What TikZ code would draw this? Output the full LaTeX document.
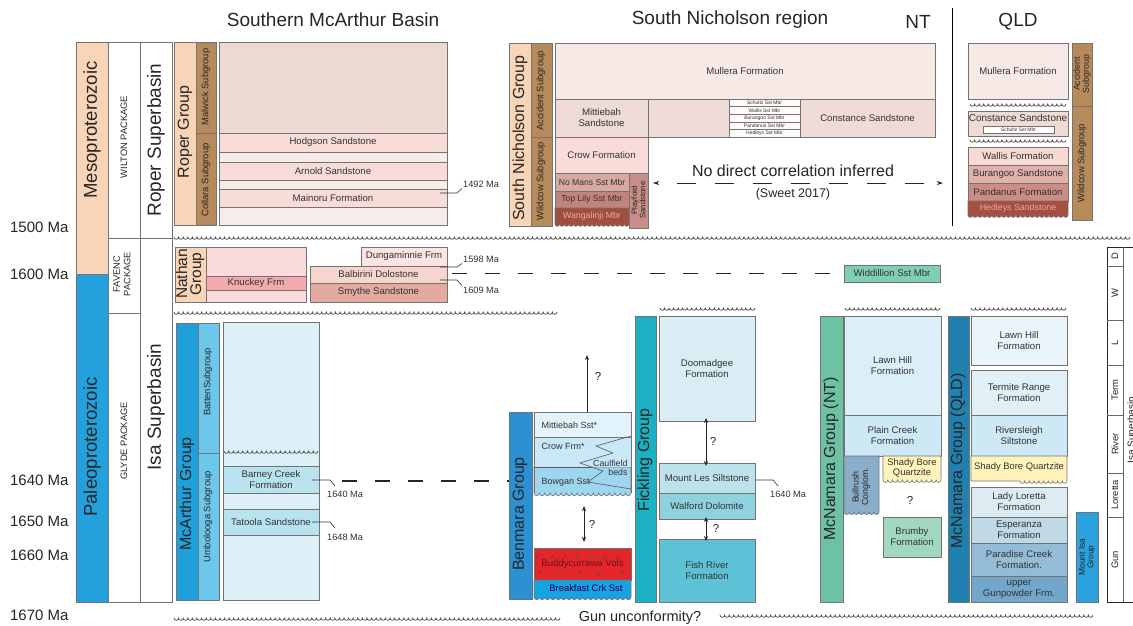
\documentclass[tikz,border=0pt]{standalone}
\usepackage{fontspec}
\setmainfont{Liberation Sans}
\usetikzlibrary{arrows.meta}

\definecolor{meso}{HTML}{FAD4B6}
\definecolor{paleo}{HTML}{22A1DC}
\definecolor{brownsg}{HTML}{B78A5C}
\definecolor{ropertop}{HTML}{EDD8D2}
\definecolor{roperfm}{HTML}{F7DCD7}
\definecolor{roperlt}{HTML}{F6ECEA}
\definecolor{nathanlt}{HTML}{FADADD}
\definecolor{knuckey}{HTML}{F3AAAE}
\definecolor{dunga}{HTML}{FBE4E1}
\definecolor{balb}{HTML}{F6D5CF}
\definecolor{smythe}{HTML}{E3AA9F}
\definecolor{mullera}{HTML}{F7E9E6}
\definecolor{mitt}{HTML}{EFDBD6}
\definecolor{crow}{HTML}{F9DCD9}
\definecolor{nomans}{HTML}{D9A8A1}
\definecolor{toplily}{HTML}{C1847B}
\definecolor{wanga}{HTML}{A14E40}
\definecolor{playford}{HTML}{C68E86}
\definecolor{wallis}{HTML}{F9D9D4}
\definecolor{burangoo}{HTML}{DFB1AA}
\definecolor{pandanus}{HTML}{CA8D83}
\definecolor{widd}{HTML}{7FCFB5}
\definecolor{mcarthur}{HTML}{1FA0DA}
\definecolor{batten}{HTML}{6CC7ED}
\definecolor{mcafm}{HTML}{DDF0F8}
\definecolor{barney}{HTML}{B9E2EF}
\definecolor{benmara}{HTML}{2C90D2}
\definecolor{mittS}{HTML}{E2F3FB}
\definecolor{crowS}{HTML}{C8E8F8}
\definecolor{bowgan}{HTML}{9ED6F2}
\definecolor{buddy}{HTML}{E2262A}
\definecolor{breakfast}{HTML}{17A3E1}
\definecolor{fickling}{HTML}{1CB1C2}
\definecolor{doom}{HTML}{D8EEF4}
\definecolor{mountles}{HTML}{BCE3EC}
\definecolor{walford}{HTML}{90D1DF}
\definecolor{fishriver}{HTML}{5DC2D6}
\definecolor{mcnnt}{HTML}{6DC2A3}
\definecolor{lawn}{HTML}{DCEFF8}
\definecolor{plain}{HTML}{CDE9F6}
\definecolor{bullrush}{HTML}{8AADC9}
\definecolor{shady}{HTML}{FFF2BA}
\definecolor{brumby}{HTML}{A2D7BF}
\definecolor{mcnq}{HTML}{2080B0}
\definecolor{lawnq}{HTML}{E9F5FB}
\definecolor{termite}{HTML}{E1F0F6}
\definecolor{rivers}{HTML}{CEE9F5}
\definecolor{ladyl}{HTML}{DDEBF3}
\definecolor{esper}{HTML}{BFD9E7}
\definecolor{paradise}{HTML}{94BCD6}
\definecolor{gunpow}{HTML}{72A6CB}
\definecolor{mtisa}{HTML}{2BA1DD}
\definecolor{darkfm}{HTML}{A54F40}
\definecolor{palefm}{HTML}{E3ADA3}

\newcommand\fs[2]{\fontsize{#1}{#2}\selectfont}
\newcommand\strat[8][]{\node[unitbox,fill=#3,minimum width={(#6-#4)*1pt},minimum height={(#7-#5)*1pt},#1] (#2) at ({(#4+#6)/2},{(#5+#7)/2}) {#8};}
\newcommand\scalbox[8][]{\pgfmathsetmacro\scr{(#5-#7)/(2*#8)}%
  \filldraw[unitline,fill=#2,#1] (#3,#4) -- (#5,#4) -- (#5,#6) \foreach \k in {1,...,#8}{arc[start angle=0,end angle=180,radius=\scr]} -- (#3,#6) -- cycle;}
\newcommand\uncon[3]{\pgfmathtruncatemacro\unn{round((#2-#1)/4.6)}\pgfmathsetmacro\unr{(#2-#1)/(2*\unn)}%
  \draw[wavy] (#1,#3) \foreach \k in {1,...,\unn}{arc[start angle=180,end angle=0,radius=\unr]};}

\tikzset{
  unitline/.style={draw=black!55, line width=0.6pt},
  unitbox/.style={unitline, inner sep=0pt, outer sep=0pt, align=center, text=black!80, font=\fs{9.6}{11}},
  vlab/.style={rotate=90, align=center, text=black!85, inner sep=0pt},
  title/.style={font=\fs{19}{21}, text=black!85},
  age/.style={font=\fs{15}{17}, text=black!85, anchor=east},
  agesm/.style={font=\fs{9.2}{10}, text=black!80, anchor=west, inner sep=1pt},
  leader/.style={draw=black!80, line width=0.6pt},
  wavy/.style={draw=black!70, line width=0.7pt},
  corr/.style={draw=black!85, line width=1.1pt, dash pattern=on 15pt off 18pt},
  qarrow/.style={draw=black!85, line width=0.6pt, -{Stealth[length=5pt,width=4pt]}},
  darrow/.style={draw=black!85, line width=0.6pt, {Stealth[length=5pt,width=4pt]}-{Stealth[length=5pt,width=4pt]}},
  volc/.style={draw=black!70, line width=0.4pt}
}

\begin{document}
\begin{tikzpicture}[x=1pt,y=-1pt]
\useasboundingbox (0,0) rectangle (1133,625);
\fill[white] (0,0) rectangle (1133,625);

\node[title] (tMcA) at (333,20) {Southern McArthur Basin};
\node[title] (tSN) at (730,20) {South Nicholson region};
\node[title] (tNT) at (918,22) {NT};
\node[title] (tQLD) at (1018,22) {QLD};
\draw[line width=0.9pt] (952,8) -- (952,226);

\strat{meso}{meso}{76}{42}{108}{274}{}
\strat{paleo}{paleo}{76}{274}{108}{602}{}
\strat{wilton}{white}{108}{42}{140}{238}{}
\strat{favenc}{white}{108}{238}{140}{313}{}
\strat{glyde}{white}{108}{313}{140}{602}{}
\strat{roperSB}{white}{140}{42}{172}{238}{}
\strat{isaSB}{white}{140}{238}{172}{602}{}
\node[vlab,font=\fs{18.6}{20}] (mesoL) at (92,130) {Mesoproterozoic};
\node[vlab,font=\fs{18.6}{20}] (paleoL) at (92,447) {Paleoproterozoic};
\node[vlab,font=\fs{9.3}{10.5}] (wiltonL) at (124,137) {WILTON PACKAGE};
\node[vlab,font=\fs{9.3}{10.5}] (favencL) at (122,274) {FAVENC\\PACKAGE};
\node[vlab,font=\fs{9.3}{10.5}] (glydeL) at (124,441) {GLYDE PACKAGE};
\node[vlab,font=\fs{19}{20}] (roperSBL) at (156,140) {Roper Superbasin};
\node[vlab,font=\fs{19}{20}] (isaSBL) at (156,407) {Isa Superbasin};

\node[age] (m1500) at (72,227) {1500 Ma};
\node[age] (m1600) at (72,274) {1600 Ma};
\node[age] (m1640) at (72,480) {1640 Ma};
\node[age] (m1650) at (72,521) {1650 Ma};
\node[age] (m1660) at (72,555) {1660 Ma};
\node[age] (m1670) at (72,615) {1670 Ma};

\uncon{174}{1130}{237}
\uncon{174}{557}{312}
\uncon{660}{755}{308}
\uncon{845}{940}{308}
\uncon{971}{1066}{308}
\uncon{174}{560}{618}
\uncon{720}{1093}{615}

\strat{roperG}{meso}{174}{42}{196}{225}{}
\strat{malwick}{brownsg}{196}{42}{216}{133}{}
\strat{collara}{brownsg}{196}{133}{216}{225}{}
\node[vlab,font=\fs{16}{17}] (roperGL) at (185,132) {Roper Group};
\node[vlab,font=\fs{9.4}{10}] (malwickL) at (206,87) {Malwick Subgroup};
\node[vlab,font=\fs{9.4}{10}] (collaraL) at (206,180) {Collara Subgroup};
\strat{ropertop}{ropertop}{219}{42}{447}{133}{}
\strat{hodgson}{roperfm}{219}{133}{447}{152}{Hodgson Sandstone}
\strat{rb1}{roperlt}{219}{152}{447}{162}{}
\strat{arnold}{roperfm}{219}{162}{447}{180}{Arnold Sandstone}
\strat{rb2}{roperlt}{219}{180}{447}{189}{}
\strat{mainoru}{roperfm}{219}{189}{447}{207}{Mainoru Formation}
\strat{rb3}{roperlt}{219}{207}{447}{225}{}
\node[agesm] (a1492) at (462,184) {1492 Ma};
\coordinate (k1492) at (440,193);
\draw[leader] (k1492) -- ++(17,0) -- (a1492.south west);

\strat{nathanG}{meso}{175}{247}{206}{302}{}
\node[vlab,font=\fs{15.5}{14}] (nathanL) at (190,274) {Nathan\\Group};
\strat{nb1}{nathanlt}{206}{247}{306}{276}{}
\strat{knuckey}{knuckey}{206}{276}{306}{290}{Knuckey Frm}
\strat{nb2}{nathanlt}{206}{290}{306}{302}{}
\strat{dunga}{dunga}{361}{247}{447}{266}{Dungaminnie Frm}
\strat{balb}{balb}{310}{266}{447}{283}{Balbirini Dolostone}
\strat{smythe}{smythe}{310}{283}{447}{302}{Smythe Sandstone}
\node[agesm] (a1598) at (462,259) {1598 Ma};
\node[agesm] (a1609) at (462,290) {1609 Ma};
\coordinate (k1598) at (440,267);
\coordinate (k1609) at (440,280);
\draw[leader] (k1598) -- ++(17,0) -- (a1598.south west);
\draw[leader] (k1609) -- ++(17,0) -- (a1609.north west);
\strat{widd}{widd}{844}{265}{940}{282}{Widdillion Sst Mbr}
\coordinate (c1600) at (452,273.5);
\draw[corr] (c1600) -- (widd.west);

\strat{snG}{meso}{509}{43}{531}{226}{}
\strat{accident}{brownsg}{531}{43}{552}{137}{}
\strat{wildcow}{brownsg}{531}{137}{552}{226}{}
\node[vlab,font=\fs{16}{17}] (snGL) at (520,138) {South Nicholson Group};
\node[vlab,font=\fs{9.4}{10}] (accidentL) at (541,91) {Accident Subgroup};
\node[vlab,font=\fs{9.4}{10}] (wildcowL) at (541,181) {Wildcow Subgroup};
\strat{mullera}{mullera}{555}{43}{935}{99}{Mullera Formation}
\strat{mittiebah}{mitt}{555}{99}{648}{137}{Mittiebah\\Sandstone}
\strat{snmid}{mitt}{648}{99}{729}{137}{}
\strat[font=\fs{5}{5}]{schultz}{white!85!mitt}{729}{99}{800}{106.6}{Schultz Sst Mbr}
\strat[font=\fs{5}{5}]{wallis}{white!85!mitt}{729}{106.6}{800}{114.2}{Wallis Sst Mbr}
\strat[font=\fs{5}{5}]{burangoo}{white!85!mitt}{729}{114.2}{800}{121.8}{Burangoo Sst Mbr}
\strat[font=\fs{5}{5}]{pandanus}{white!85!mitt}{729}{121.8}{800}{129.4}{Pandanus Sst Mbr}
\strat[font=\fs{5}{5}]{hedleys}{white!85!mitt}{729}{129.4}{800}{137}{Hedleys Sst Mbr}
\strat{constance}{mitt}{800}{99}{935}{137}{Constance Sandstone}
\strat{crow}{crow}{555}{137}{648}{173}{Crow Formation}
\strat[font=\fs{8.6}{9}]{nomans}{nomans}{555}{173}{629}{191}{No Mans Sst Mbr}
\strat[font=\fs{8.6}{9}]{toplily}{toplily}{555}{191}{629}{208}{Top Lily Sst Mbr}
\scalbox{wanga}{555}{208}{629}{224}{555}{16}
\node[font=\fs{8.8}{10},text=palefm] (wangaL) at (592,216) {Wangalinji Mbr};
\strat{playford}{playford}{629}{173}{648}{228}{}
\node[vlab,font=\fs{7.8}{8.2}] (playfordL) at (638.5,200) {Playford\\Sandstone};
\node[font=\fs{16}{18},text=black!85] (nodirect) at (793,171) {No direct correlation inferred};
\node[font=\fs{12.5}{14},text=black!85] (sweet) at (793,194) {(Sweet 2017)};
\coordinate (ncL) at (653,183);
\coordinate (ncR) at (943,183);
\draw[black!85, line width=0.9pt, dash pattern=on 19pt off 19pt, dash phase=-20pt, {Stealth[length=6pt,width=4pt]}-{Stealth[length=6pt,width=4pt]}] (ncL) -- (ncR);

\strat{mulleraQ}{mullera}{968}{43}{1068}{99}{Mullera Formation}
\uncon{970}{1066}{104}
\strat{constQ}{mitt}{968}{111}{1068}{136}{}
\node[font=\fs{10}{10},text=black!80] (constQL) at (1018,118) {Constance Sandstone};
\strat[font=\fs{5}{5}]{schultzQ}{white}{983}{126}{1054}{133}{Schultz Sst Mbr}
\uncon{970}{1066}{140}
\strat{wallisQ}{wallis}{968}{147}{1068}{165}{Wallis Formation}
\strat{burangooQ}{burangoo}{968}{165}{1068}{183}{Burangoo Sandstone}
\strat{pandanusQ}{pandanus}{968}{183}{1068}{201}{Pandanus Formation}
\scalbox{darkfm}{968}{201}{1068}{215}{968}{21}
\node[font=\fs{8.8}{10},text=palefm] (hedleysQL) at (1018,208) {Hedleys Sandstone};
\strat{accQ}{brownsg}{1072}{43}{1092}{106}{}
\strat{wildQ}{brownsg}{1072}{106}{1092}{220}{}
\node[vlab,font=\fs{8.8}{9}] (accQL) at (1082,74) {Accident\\Subgroup};
\node[vlab,font=\fs{9.4}{10}] (wildQL) at (1082,163) {Wildcow Subgroup};

\strat{mcarthurG}{mcarthur}{176}{323}{198}{600}{}
\strat{battenSG}{batten}{198}{323}{219}{453}{}
\strat{umbSG}{batten}{198}{453}{219}{600}{}
\node[vlab,font=\fs{16}{17}] (mcarthurL) at (187,494) {McArthur Group};
\node[vlab,font=\fs{9.4}{10}] (battenL) at (208,382) {BattenSubgroup};
\node[vlab,font=\fs{9.4}{10}] (umbL) at (208,517) {Umbolooga Subgroup};
\strat{mcafm}{mcafm}{223}{322}{319}{600}{}
\uncon{224}{318}{451}
\strat{barney}{barney}{223}{466}{319}{493}{Barney Creek\\Formation}
\strat{tatoola}{barney}{223}{509}{319}{535}{Tatoola Sandstone}
\coordinate (k1640a) at (312,480);
\coordinate (e1640a) at (335,486);
\coordinate (k1648) at (312,522);
\coordinate (e1648) at (335,528);
\draw[leader] (k1640a) -- ++(18,0) -- (e1640a);
\draw[leader] (k1648) -- ++(18,0) -- (e1648);
\node[agesm] (a1640a) at (326,494) {1640 Ma};
\node[agesm] (a1648) at (326,537) {1648 Ma};

\strat{benmaraG}{benmara}{509}{412}{532}{599}{}
\node[vlab,font=\fs{16}{17}] (benmaraL) at (520,514) {Benmara Group};
\coordinate (c1640) at (342,481);
\draw[corr] (c1640) -- (benmaraG.west |- c1640);
\scalbox{bowgan}{534}{467}{631}{493}{534}{18}
\fill[crowS] (534,437) rectangle (631,467);
\draw[unitline] (534,493) -- (534,437) -- (631,437) -- (631,493);
\strat{mittS}{mittS}{534}{412}{631}{437}{}
\node[font=\fs{9}{10},text=black!80,anchor=west] (mittSL) at (538,425) {Mittiebah Sst*};
\draw[black!65, line width=0.6pt] (631,436) -- (596,446) -- (613,453) -- (580,463) -- (603,471) -- (588,482) -- (631,489);
\draw[black!65, line width=0.6pt] (534,467) -- (591.5,467);
\node[font=\fs{9}{10},text=black!80,anchor=west] (crowSL) at (538,446) {Crow Frm*};
\node[font=\fs{9}{10},text=black!80,anchor=west] (bowganL) at (538,482) {Bowgan Sst};
\node[font=\fs{8.8}{9},text=black!80,align=right,anchor=east] (caulL) at (631,468) {Caulfield\\beds};
\coordinate (q1) at (587,355);
\draw[qarrow] (mittS.north -| q1) -- (q1);
\node[font=\fs{11.5}{12},text=black!85] (q1L) at (598,376) {?};
\strat[text=buddy!50!black]{buddy}{buddy}{534}{548}{631}{580}{Buddycurrawa Vols}
\foreach \vx/\vy in {538/556,553/557,565/556,578/557,592/556,605/557,618/556,540/572,560/574,580/572,598/574,622/572}
  \draw[volc] (\vx-1.5,\vy+1.5) -- (\vx,\vy-1.5) -- (\vx+1.5,\vy+1.5);
\scalbox{breakfast}{534}{580}{631}{597}{534}{18}
\node[font=\fs{9.4}{10},text=blue!30!black] (breakL) at (586,588) {Breakfast Crk Sst};
\coordinate (q2a) at (584,506);
\coordinate (q2b) at (584,542);
\draw[darrow] (q2a) -- (q2b);
\node[font=\fs{11.5}{12},text=black!85] (q2L) at (592,524) {?};
\node[font=\fs{14.5}{16},text=black!85] (gunL) at (640,618) {Gun unconformity?};

\strat{ficklingG}{fickling}{635}{316}{656}{602}{}
\node[vlab,font=\fs{16}{17}] (ficklingL) at (645,460) {Fickling Group};
\strat{doomadgee}{doom}{659}{316}{755}{421}{Doomadgee\\Formation}
\strat{mountles}{mountles}{659}{463}{755}{493}{Mount Les Siltstone}
\strat{walford}{walford}{659}{493}{755}{519}{Walford Dolomite}
\strat{fishriver}{fishriver}{659}{539}{755}{602}{Fish River\\Formation}
\draw[darrow] ([yshift=3pt]doomadgee.south -| 706,0) -- ([yshift=-3pt]mountles.north -| 706,0);
\node[font=\fs{11.5}{12},text=black!85] (q3L) at (713,441) {?};
\draw[darrow] ([yshift=2pt]walford.south -| 706,0) -- ([yshift=-2pt]fishriver.north -| 706,0);
\node[font=\fs{11.5}{12},text=black!85] (q4L) at (716,528) {?};
\coordinate (k1640b) at (755,480);
\coordinate (e1640b) at (778,486);
\draw[leader] (k1640b) -- ++(18,0) -- (e1640b);
\node[agesm] (a1640b) at (769,494) {1640 Ma};

\strat{mcnNT}{mcnnt}{820}{316}{843}{602}{}
\node[vlab,font=\fs{16}{17}] (mcnNTL) at (831,459) {McNamara Group (NT)};
\strat{lawnNT}{lawn}{844}{316}{941}{415}{Lawn Hill\\Formation}
\strat{plainNT}{plain}{844}{415}{941}{456}{Plain Creek\\Formation}
\scalbox{bullrush}{844}{456}{879}{512}{844}{7}
\node[vlab,font=\fs{8.8}{9.5}] (bullrushL) at (861,487) {Bullrush\\Conglom.};
\scalbox{shady}{883}{456}{941}{480}{883}{12}
\node[font=\fs{9.4}{10.5},text=black!80,align=center] (shadyNTL) at (912,468) {Shady Bore\\Quartzite};
\node[font=\fs{11.5}{12},text=black!85] (q5L) at (910,500) {?};
\strat{brumby}{brumby}{883}{517}{941}{557}{Brumby\\Formation}

\strat{mcnQ}{mcnq}{948}{316}{969}{602}{}
\node[vlab,font=\fs{16}{17}] (mcnQL) at (958,461) {McNamara Group (QLD)};
\strat{lawnQ}{lawnq}{971}{316}{1067}{365}{Lawn Hill\\Formation}
\strat{termite}{termite}{971}{370}{1067}{415}{Termite Range\\Formation}
\strat{rivers}{rivers}{971}{415}{1067}{456}{Riversleigh\\Siltstone}
\scalbox{shady}{971}{456}{1067}{481}{1020}{10}
\node[font=\fs{9.4}{10.5},text=black!80] (shadyQL) at (1019,467) {Shady Bore Quartzite};
\strat{ladyL}{ladyl}{971}{487}{1067}{517}{Lady Loretta\\Formation}
\strat{esper}{esper}{971}{517}{1067}{543}{Esperanza\\Formation}
\strat{paradise}{paradise}{971}{543}{1067}{576}{Paradise Creek\\Formation.}
\strat{gunpow}{gunpow}{971}{576}{1067}{602}{upper\\Gunpowder Frm.}
\strat{mtisa}{mtisa}{1076}{512}{1098}{602}{}
\node[vlab,font=\fs{8.4}{8.5}] (mtisaL) at (1087,557) {Mount Isa\\Group};

\draw[black!85, line width=0.9pt] (1140,247) -- (1107,247) -- (1107,602) -- (1140,602);
\draw[black!60, line width=0.5pt] (1123,247) -- (1123,602);
\foreach \dy in {266,320,365,415,473,517}
  \draw[black!60, line width=0.5pt] (1107,\dy) -- (1123,\dy);
\node[vlab,font=\fs{9.4}{10}] (bD) at (1115,256.5) {D};
\node[vlab,font=\fs{9.4}{10}] (bW) at (1115,293) {W};
\node[vlab,font=\fs{9.4}{10}] (bL) at (1115,342.5) {L};
\node[vlab,font=\fs{9.4}{10}] (bTerm) at (1115,390) {Term};
\node[vlab,font=\fs{9.4}{10}] (bRiver) at (1115,444) {River};
\node[vlab,font=\fs{9.4}{10}] (bLoretta) at (1115,495) {Loretta};
\node[vlab,font=\fs{9.4}{10}] (bGun) at (1115,560) {Gun};
\node[vlab,font=\fs{10}{11}] (bIsa) at (1132,430) {Isa Superbasin};
\end{tikzpicture}
\end{document}
